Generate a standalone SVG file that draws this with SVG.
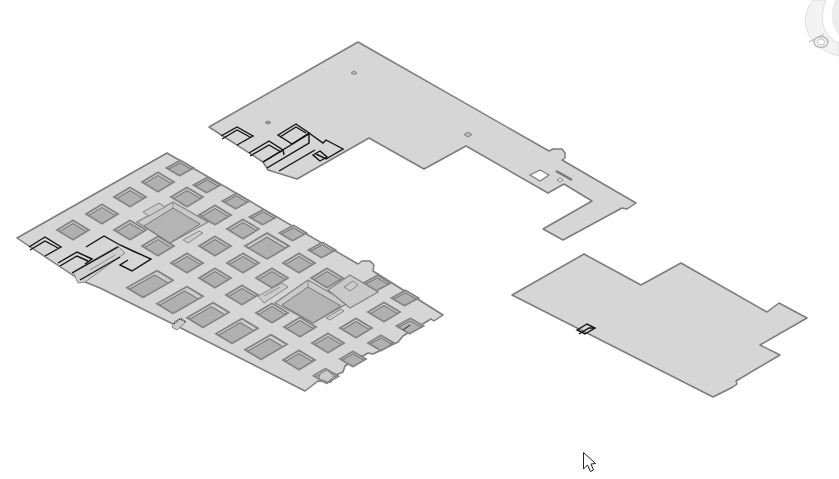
<svg xmlns="http://www.w3.org/2000/svg" width="839" height="479" viewBox="0 0 839 479">
<style>
.slab{fill:#d6d6d6;stroke:#7c7c7c;stroke-width:1.5;stroke-linejoin:round}
.rim{fill:#cdcdcd;stroke:#858585;stroke-width:1.5;vector-effect:non-scaling-stroke}
.pit{fill:#b0b0b0;stroke:none}
.edge{fill:none;stroke:#6a6a6a;stroke-width:1;vector-effect:non-scaling-stroke}
.blk{fill:none;stroke:#111;stroke-width:1.4;stroke-linejoin:miter}
.gr{fill:none;stroke:#8c8c8c;stroke-width:1}
.grf{fill:#cbcbcb;stroke:#858585;stroke-width:1}
.big{fill:#b4b4b4;stroke:#777;stroke-width:1}
.wall{fill:#cacaca;stroke:#858585;stroke-width:1.300}
</style>
<defs>
<g id="h">
<polygon class="rim" points="-1,-1 1,-1 1,1 -1,1"/>
<polygon class="pit" points="-.68,-.68 1,-.68 1,1 -.68,1"/>
<polyline class="edge" points="-.68,1 -.68,-.68 1,-.68"/>
<polygon points="-1,-1 1,-1 1,1 -1,1" fill="none" stroke="#858585" stroke-width="1.500" vector-effect="non-scaling-stroke"/>
</g>
</defs>
<rect width="839" height="479" fill="#fff"/>

<g id="compass">
<path d="M813,0C802,14 803,32 816,44C824,51 832,54 839,56V43C826,38 817,22 826,0Z" fill="#f3f3f3" stroke="#dedede"/>
<path d="M835,0C830,12 830,24 839,36V0Z" fill="#ececec"/>
<ellipse cx="821" cy="42" rx="7" ry="5.500" fill="#f0f0f0" stroke="#b4b4b4" stroke-width="1.300"/>
<ellipse cx="821" cy="42" rx="3.500" ry="3" fill="#fff" stroke="#c4c4c4"/>
<line x1="809" y1="42" x2="824" y2="34" stroke="#b8b8b8"/>
</g>

<g id="slab-upper">
<polygon class="slab" points="358,42 549,151 553,149 562,149 565,153 565,158 562,160 636,203 627,209 622,208 563,240 543,229 592,201 564,184 548,193 466,146 424,169 369,138 297,179 268,170 263,162 209,127"/>
<polygon points="354,71 357,73 354,74.500 351,73" fill="#bbb" stroke="#808080"/>
<polygon points="268,121 271,122.500 268,124 265,122.500" fill="#999" stroke="#808080"/>
<polygon points="468,132 472,134.500 468,137 464,134.500" fill="#bbb" stroke="#808080"/>
<polygon points="540,170 549,175 540,181 530,175" fill="#fff" stroke="#808080" stroke-width="1.300"/>
<line x1="556" y1="171" x2="572" y2="180" stroke="#777" stroke-width="2.500"/>
<polygon points="560,178 563,180 560,182 557,180" fill="#eee" stroke="#808080"/>
<g class="blk">
<polyline points="221,136 237,127 253,136 237,145"/>
<polyline points="222,139 237,130 250,137"/>
<polyline points="249,153 269,141 283,150 263,162"/>
<polyline points="250,156 269,145 281,152"/>
<polygon points="278,135 296,124 309,133 292,144"/>
<polyline points="280,137 296,127 306,133"/>
<polyline points="263,162 309,134 309,143 267,168"/>
<polyline points="283,150 284,155"/>
<polyline points="279,171 315,150"/>
<polyline points="309,133 323,143 326,140 343,149 326,159 316,154"/>
<polygon points="320,151 327,157 320,161 313,155"/>
</g>
</g>

<g id="slab-left">
<polygon class="slab" points="167,153 358,264 362,261 370,261 374,265 373,271 443,315 434,321 431,319 403,336 398,342 373,354 368,353 345,366 343,372 333,376 331,382 318,381 305,391 175,325 100,288 80,280 17,238"/>
<g id="holes">
<use href="#h" transform="matrix(6.500,3.800,-7,3.800,180,168)"/>
<use href="#h" transform="matrix(8,4.800,-8,4.800,158,182)"/>
<use href="#h" transform="matrix(8,4.800,-8,4.800,130,197)"/>
<use href="#h" transform="matrix(8,4.800,-8,4.800,102,214)"/>
<use href="#h" transform="matrix(8,4.800,-8,4.800,73,230)"/>
<use href="#h" transform="matrix(6.500,3.800,-7,3.800,207,185)"/>
<use href="#h" transform="matrix(8,4.800,-8,4.800,187,197)"/>
<use href="#h" transform="matrix(8,4.800,-8,4.800,215,215)"/>
<use href="#h" transform="matrix(6.500,3.800,-7,3.800,236,201)"/>
<use href="#h" transform="matrix(6.500,3.800,-7,3.800,263,217)"/>
<use href="#h" transform="matrix(6.500,3.800,-7,3.800,293,233)"/>
<use href="#h" transform="matrix(6.500,3.800,-7,3.800,322,250)"/>
<use href="#h" transform="matrix(8,4.800,-8,4.800,243,229)"/>
<use href="#h" transform="matrix(8,4.800,-8,4.800,130,230)"/>
<use href="#h" transform="matrix(8,4.800,-8,4.800,158,246)"/>
<use href="#h" transform="matrix(8,4.800,-8,4.800,187,263)"/>
<use href="#h" transform="matrix(8,4.800,-8,4.800,215,246)"/>
<use href="#h" transform="matrix(8,4.800,-8,4.800,215,278)"/>
<use href="#h" transform="matrix(8,4.800,-8,4.800,243,263)"/>
<use href="#h" transform="matrix(8,4.800,-8,4.800,299,263)"/>
<use href="#h" transform="matrix(8,4.800,-8,4.800,272,278)"/>
<use href="#h" transform="matrix(8,4.800,-8,4.800,242,295)"/>
<use href="#h" transform="matrix(8,4.800,-8,4.800,327,278)"/>
<use href="#h" transform="matrix(8,4.800,-8,4.800,272,313)"/>
<use href="#h" transform="matrix(8,4.800,-8,4.800,300,327)"/>
<use href="#h" transform="matrix(8,4.800,-8,4.800,328,343)"/>
<use href="#h" transform="matrix(8,4.800,-8,4.800,299,360)"/>
<use href="#h" transform="matrix(8,4.800,-8,4.800,356,328)"/>
<use href="#h" transform="matrix(8,4.800,-8,4.800,384,312)"/>
<use href="#h" transform="matrix(6.500,3.800,-7,3.800,377,283)"/>
<use href="#h" transform="matrix(6.500,3.800,-7,3.800,405,298)"/>
<use href="#h" transform="matrix(6.500,3.800,-7,3.800,410,326)"/>
<use href="#h" transform="matrix(6.500,3.800,-6.500,3.800,381,343)"/>
<use href="#h" transform="matrix(6.500,3.800,-6.500,3.800,353,359)"/>
<use href="#h" transform="matrix(6.500,3.800,-6,3.500,326,376)"/>
<use href="#h" transform="matrix(8,4.800,-15,8.500,150,284)"/>
<use href="#h" transform="matrix(8,4.800,-15,8.500,180,300)"/>
<use href="#h" transform="matrix(8,4.800,-13,7.500,208,315)"/>
<use href="#h" transform="matrix(8,4.800,-13,7.500,237,331)"/>
<use href="#h" transform="matrix(8,4.800,-13,7.500,266,347)"/>
<use href="#h" transform="matrix(11,6.500,-11,6.500,267,246)"/>
</g>
<g id="pits">
<polygon class="wall" points="173,202 208,222 170,243 137,222"/>
<polygon class="big" points="173,208 200,224 170,243 144,226"/>
<polyline class="gr" points="173,202 173,208"/>
<polygon class="grf" points="143,212 159,203 165,207 149,216"/>
<polygon class="grf" points="183,240 199,231 203,233 188,243"/>
<polygon class="wall" points="308,280 348,303 313,323 275,303"/>
<polygon class="big" points="308,287 341,306 313,323 282,305"/>
<polyline class="gr" points="308,280 308,287"/>
<polygon class="grf" points="330,320 344,311 341,309 326,318"/>
<polygon class="wall" points="350,275 378,292 350,308 328,290"/>
<polygon class="grf" points="258,296 282,283 288,287 264,303"/>
<polyline class="gr" points="264,296 280,287"/>
<polygon class="grf" points="344,287 353,281 358,285 350,291"/>
<polygon class="grf" points="174,322 181,318 186,322 177,330 172,327"/>
<polygon class="grf" points="320,374 327,370 334,376 328,382 319,379"/>
</g>
<g id="black-detail">
<polygon points="73,272 118,246 125,253 85,282 78,283" fill="#cfcfcf" stroke="#858585"/>
<polyline class="gr" points="90,270 115,255"/>
<g class="blk">
<polyline points="29,247 45,237 61,247 45,256"/>
<polyline points="30,250 45,241 58,248"/>
<polyline points="58,263 77,252 92,259 85,264"/>
<polyline points="60,266 77,256 88,261"/>
<polyline points="86,247 104,236 120,245 133,251 151,259 132,271 120,265 128,260"/>
<polyline points="72,273 118,247"/>
<polyline points="80,280 120,257"/>
</g>
<polyline points="174,324 180,319 186,322" fill="none" stroke="#222" stroke-dasharray="2 1"/>
<line x1="403" y1="330" x2="410" y2="325" stroke="#222"/>
</g>
</g>

<g id="slab-right">
<polygon class="slab" points="584,254 641,285 681,263 767,312 779,303 807,318 760,345 780,355 736,381 737,384 733,387 713,397 512,295"/>
<g class="blk">
<polygon points="577,330 587,324 595,328 585,334"/>
<polyline points="579,334 589,328 595,328"/>
</g>
</g>

<g id="cursor">
<polygon points="583.500,452.500 595.500,463.500 591,464 593.500,470 590.500,471.500 587.500,465 583.500,469" fill="#fff" stroke="#222" stroke-width="1"/>
</g>
</svg>
